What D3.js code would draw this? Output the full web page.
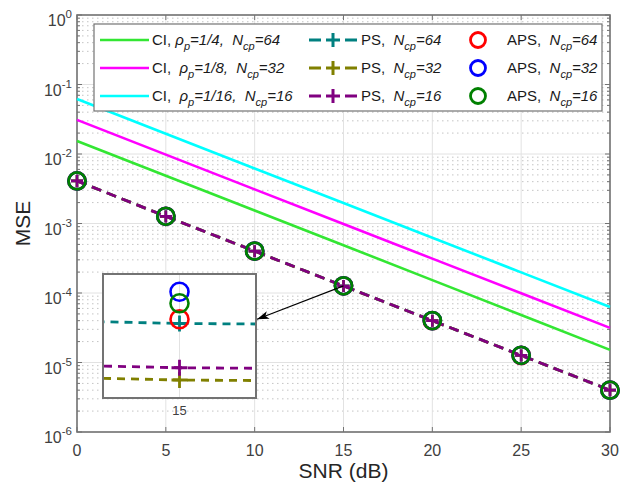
<!DOCTYPE html>
<html>
<head>
<meta charset="utf-8">
<script src="https://cdn.jsdelivr.net/npm/d3@7"></script>
<style>
body { margin: 0; background: #fff; }
text { font-family: "Liberation Sans", Arial, sans-serif; white-space: pre; }
</style>
</head>
<body>
<div id="chart"></div>
<script>
// data
var snr = [0, 5, 10, 15, 20, 25, 30];
var ci64 = [1.54e-2, 4.87e-3, 1.54e-3, 4.87e-4, 1.53e-4, 4.83e-5, 1.52e-5];
var ci32 = [3.1e-2, 9.8e-3, 3.1e-3, 9.85e-4, 3.12e-4, 9.9e-5, 3.15e-5];
var ci16 = [6.2e-2, 1.96e-2, 6.2e-3, 1.97e-3, 6.25e-4, 1.98e-4, 6.3e-5];
var ps64 = [4.1e-3, 1.267e-3, 4.003e-4, 1.26601e-4, 4.003e-5, 1.266e-5, 4.0e-6];
var ps32 = [4.1e-3, 1.266e-3, 4.001e-4, 1.26145e-4, 4.001e-5, 1.265e-5, 4.0e-6];
var ps16 = [4.1e-3, 1.266e-3, 4.002e-4, 1.26244e-4, 4.002e-5, 1.265e-5, 4.0e-6];
var aps64 = [4.1e-3, 1.267e-3, 4.004e-4, 1.26635e-4, 4.004e-5, 1.266e-5, 4.0e-6];
var aps32 = [4.1e-3, 1.268e-3, 4.006e-4, 1.26857e-4, 4.006e-5, 1.267e-5, 4.0e-6];
var aps16 = [4.1e-3, 1.268e-3, 4.005e-4, 1.26764e-4, 4.005e-5, 1.267e-5, 4.0e-6];
var rhoLabels = ["1/4", "1/8", "1/16"];
var ncpLabels = ["64", "32", "16"];
var xTicks = [0, 5, 10, 15, 20, 25, 30];
var yExps = [0, -1, -2, -3, -4, -5, -6];

var W = 620, H = 489;
var L = 77, T = 15, R = 610, B = 432;

var svg = d3.select("#chart").append("svg")
	.attr("width", W).attr("height", H);

var x = d3.scaleLinear().domain([0, 30]).range([L, R]);
var y = d3.scaleLog().domain([1e-6, 1]).range([B, T]);

var ciSeries = [
	{vals: ci64, color: "#33e633"},
	{vals: ci32, color: "#ff00ff"},
	{vals: ci16, color: "#00ffff"}
];
var psSeries = [
	{vals: ps64, color: "#008080"},
	{vals: ps32, color: "#808000"},
	{vals: ps16, color: "#800080"}
];
var apsSeries = [
	{vals: aps64, color: "#ff0000"},
	{vals: aps32, color: "#0000ff"},
	{vals: aps16, color: "#008000"}
];

// minor grid (log)
var minors = [];
for (var e = -6; e < 0; e++) {
	for (var m = 2; m <= 9; m++) minors.push(m * Math.pow(10, e));
}
svg.append("g").selectAll("line").data(minors).join("line")
	.attr("x1", L).attr("x2", R)
	.attr("y1", d => y(d)).attr("y2", d => y(d))
	.attr("stroke", "#c4c4c4").attr("stroke-width", 1)
	.attr("stroke-dasharray", "1.5,3.5");

// major grid
svg.append("g").selectAll("line").data(xTicks).join("line")
	.attr("x1", d => x(d)).attr("x2", d => x(d))
	.attr("y1", T).attr("y2", B)
	.attr("stroke", "#e2e2e2").attr("stroke-width", 1);
svg.append("g").selectAll("line").data(yExps).join("line")
	.attr("x1", L).attr("x2", R)
	.attr("y1", d => y(Math.pow(10, d))).attr("y2", d => y(Math.pow(10, d)))
	.attr("stroke", "#e2e2e2").attr("stroke-width", 1);

// axes frame and ticks
var frame = svg.append("g").attr("stroke", "#737373").attr("fill", "none");
frame.append("rect").attr("x", L).attr("y", T).attr("width", R - L).attr("height", B - T)
	.attr("stroke-width", 1.6);
xTicks.forEach(function(t) {
	frame.append("line").attr("x1", x(t)).attr("x2", x(t)).attr("y1", B).attr("y2", B - 5);
	frame.append("line").attr("x1", x(t)).attr("x2", x(t)).attr("y1", T).attr("y2", T + 5);
});
yExps.forEach(function(ex) {
	var yy = y(Math.pow(10, ex));
	frame.append("line").attr("x1", L).attr("x2", L + 5).attr("y1", yy).attr("y2", yy);
	frame.append("line").attr("x1", R).attr("x2", R - 5).attr("y1", yy).attr("y2", yy);
});
minors.forEach(function(v) {
	frame.append("line").attr("x1", L).attr("x2", L + 3).attr("y1", y(v)).attr("y2", y(v));
	frame.append("line").attr("x1", R).attr("x2", R - 3).attr("y1", y(v)).attr("y2", y(v));
});

// tick labels
svg.append("g").selectAll("text").data(xTicks).join("text")
	.attr("x", d => x(d)).attr("y", B + 24)
	.attr("text-anchor", "middle").attr("font-size", 16).attr("fill", "#404040")
	.text(d => d);
var yl = svg.append("g").selectAll("text").data(yExps).join("text")
	.attr("x", L - 5).attr("y", d => y(Math.pow(10, d)) + 11)
	.attr("text-anchor", "end").attr("font-size", 16).attr("fill", "#404040");
yl.append("tspan").text("10");
yl.append("tspan").attr("dy", -8).attr("font-size", 11.5).text(d => d);

// axis titles
svg.append("text").attr("x", (L + R) / 2).attr("y", 478)
	.attr("text-anchor", "middle").attr("font-size", 21).attr("fill", "#262626")
	.text("SNR (dB)");
svg.append("text").attr("transform", "translate(30," + ((T + B) / 2) + ") rotate(-90)")
	.attr("text-anchor", "middle").attr("font-size", 21).attr("fill", "#262626")
	.text("MSE");

// data marks
var line = d3.line().x((d, i) => x(snr[i])).y(d => y(d));
var plot = svg.append("g");
ciSeries.forEach(function(s) {
	plot.append("path").attr("d", line(s.vals)).attr("fill", "none")
		.attr("stroke", s.color).attr("stroke-width", 2.6);
});
var plusPath = function(h) { return "M" + (-h) + ",0H" + h + "M0," + (-h) + "V" + h; };
psSeries.forEach(function(s) {
	plot.append("path").attr("d", line(s.vals)).attr("fill", "none")
		.attr("stroke", s.color).attr("stroke-width", 2.8).attr("stroke-dasharray", "10,6");
	plot.append("g").selectAll("path").data(s.vals).join("path")
		.attr("transform", (d, i) => "translate(" + x(snr[i]) + "," + y(d) + ")")
		.attr("d", plusPath(6)).attr("stroke", s.color).attr("stroke-width", 2.6);
});
apsSeries.forEach(function(s) {
	plot.append("g").selectAll("circle").data(s.vals).join("circle")
		.attr("cx", (d, i) => x(snr[i])).attr("cy", d => y(d)).attr("r", 8.5)
		.attr("fill", "none").attr("stroke", s.color).attr("stroke-width", 2.8);
});

// zoomed inset around SNR = 15 dB
var iL = 103, iR = 256, iT = 274, iB = 398;
var ix = d3.scaleLinear().domain([15 - 2.5e-4, 15 + 2.5e-4]).range([iL, iR]);
var iy = d3.scaleLinear().domain([1.26e-4, 1.27e-4]).range([iB, iT]);
var ins = svg.append("g");
ins.append("rect").attr("x", iL).attr("y", iT).attr("width", iR - iL).attr("height", iB - iT)
	.attr("fill", "#fff");
svg.append("clipPath").attr("id", "iclip").append("rect")
	.attr("x", iL).attr("y", iT).attr("width", iR - iL).attr("height", iB - iT);
ins.append("line").attr("x1", ix(15)).attr("x2", ix(15)).attr("y1", iT).attr("y2", iB)
	.attr("stroke", "#e2e2e2");
var iline = d3.line().x((d, i) => ix(snr[i])).y(d => iy(d));
var ic = ins.append("g").attr("clip-path", "url(#iclip)");
psSeries.forEach(function(s) {
	ic.append("path").attr("d", iline(s.vals)).attr("fill", "none")
		.attr("stroke", s.color).attr("stroke-width", 2.8).attr("stroke-dasharray", "8,6");
	ic.append("path").attr("transform", "translate(" + ix(snr[3]) + "," + iy(s.vals[3]) + ")")
		.attr("d", plusPath(8)).attr("stroke", s.color).attr("stroke-width", 2.8);
});
apsSeries.forEach(function(s) {
	ic.append("circle").attr("cx", ix(snr[3])).attr("cy", iy(s.vals[3])).attr("r", 9)
		.attr("fill", "none").attr("stroke", s.color).attr("stroke-width", 2.6);
});
ins.append("rect").attr("x", iL).attr("y", iT).attr("width", iR - iL).attr("height", iB - iT)
	.attr("fill", "none").attr("stroke", "#737373").attr("stroke-width", 2);
ins.append("text").attr("x", ix(15)).attr("y", iB + 17).attr("text-anchor", "middle")
	.attr("font-size", 13).attr("fill", "#404040").text("15");

// arrow from the point to the inset
svg.append("defs").append("marker").attr("id", "ah")
	.attr("viewBox", "0 0 12 8").attr("refX", 12).attr("refY", 4)
	.attr("markerWidth", 12).attr("markerHeight", 8).attr("markerUnits", "userSpaceOnUse")
	.attr("orient", "auto")
	.append("path").attr("d", "M0,0L12,4L0,8L3,4Z").attr("fill", "#000");
svg.append("line")
	.attr("x1", x(snr[3])).attr("y1", y(ps64[3]))
	.attr("x2", iR + 1).attr("y2", iy(aps64[3]))
	.attr("stroke", "#000").attr("stroke-width", 1.1).attr("marker-end", "url(#ah)");

// legend
var lg = svg.append("g");
lg.append("rect").attr("x", 94).attr("y", 24).attr("width", 508).attr("height", 87)
	.attr("fill", "#fff").attr("stroke", "#737373").attr("stroke-width", 1.2);
var rowY = [40, 68, 96];

function richText(g, xx, yy, parts) {
	var t = g.append("text").attr("x", xx).attr("y", yy).attr("font-size", 15).attr("fill", "#1a1a1a");
	var shift = 0;
	parts.forEach(function(p) {
		var target = p[1] === "sub" ? 5 : 0;
		var ts = t.append("tspan").attr("dy", target - shift).text(p[0]);
		if (p[1] !== "") ts.attr("font-style", "italic");
		if (p[1] === "sub") ts.attr("font-size", 11);
		shift = target;
	});
}

ciSeries.forEach(function(s, i) {
	var yy = rowY[i];
	lg.append("line").attr("x1", 100).attr("x2", 149).attr("y1", yy).attr("y2", yy)
		.attr("stroke", s.color).attr("stroke-width", 2.6);
	richText(lg, 152, yy + 5, [[i === 0 ? "CI, " : "CI,  ", ""], ["\u03c1", "i"], ["p", "sub"], ["=" + rhoLabels[i] + ",  ", "i"],
		["N", "i"], ["cp", "sub"], ["=" + ncpLabels[i], "i"]]);
});
psSeries.forEach(function(s, i) {
	var yy = rowY[i];
	lg.append("line").attr("x1", 309).attr("x2", 357).attr("y1", yy).attr("y2", yy)
		.attr("stroke", s.color).attr("stroke-width", 2.8).attr("stroke-dasharray", "12,24,12");
	lg.append("path").attr("transform", "translate(333," + yy + ")").attr("d", plusPath(7))
		.attr("stroke", s.color).attr("stroke-width", 3);
	richText(lg, 361, yy + 5, [["PS,  ", ""], ["N", "i"], ["cp", "sub"], ["=" + ncpLabels[i], "i"]]);
});
apsSeries.forEach(function(s, i) {
	var yy = rowY[i];
	lg.append("circle").attr("cx", 478).attr("cy", yy).attr("r", 7.5)
		.attr("fill", "none").attr("stroke", s.color).attr("stroke-width", 2.8);
	richText(lg, 507, yy + 5, [["APS,  ", ""], ["N", "i"], ["cp", "sub"], ["=" + ncpLabels[i], "i"]]);
});
</script>
</body>
</html>
